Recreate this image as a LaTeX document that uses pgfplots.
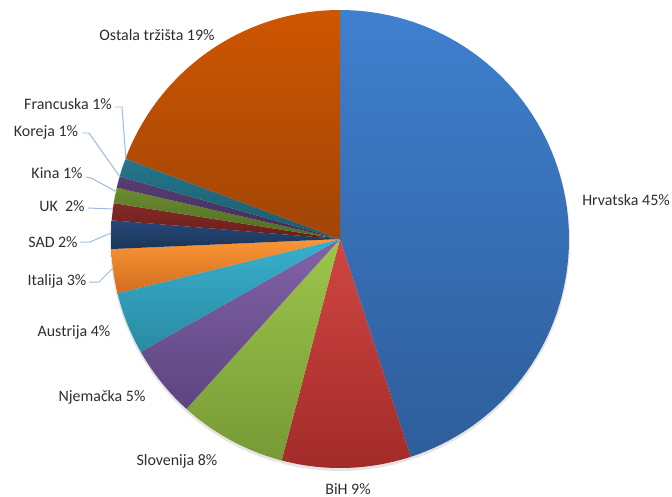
\documentclass[border=0pt]{standalone}
\usepackage{pgfplots}
\pgfplotsset{compat=1.18}
\usepackage{fontspec}
\setmainfont{Carlito}
\definecolor{txt}{HTML}{2E2E2E}
\definecolor{lead}{HTML}{9DBBE2}
% top / bottom shades of each slice
\definecolor{hrT}{HTML}{3F80CF}\definecolor{hrB}{HTML}{2E5D9A}
\definecolor{biT}{HTML}{D04643}\definecolor{biB}{HTML}{A22B29}
\definecolor{slT}{HTML}{9DC54B}\definecolor{slB}{HTML}{779A36}
\definecolor{njT}{HTML}{8263A8}\definecolor{njB}{HTML}{5D4480}
\definecolor{auT}{HTML}{38B0CD}\definecolor{auB}{HTML}{2A8AA3}
\definecolor{itT}{HTML}{FC9535}\definecolor{itB}{HTML}{D06E20}
\definecolor{saT}{HTML}{26497A}\definecolor{saB}{HTML}{1B3457}
\definecolor{ukT}{HTML}{872A26}\definecolor{ukB}{HTML}{661E1C}
\definecolor{kiT}{HTML}{6B8C2F}\definecolor{kiB}{HTML}{4F6A22}
\definecolor{koT}{HTML}{573E74}\definecolor{koB}{HTML}{3F2C55}
\definecolor{frT}{HTML}{25768B}\definecolor{frB}{HTML}{1B5A6B}
\definecolor{osT}{HTML}{CE5600}\definecolor{osB}{HTML}{A14507}
\tikzset{lab/.style={font=\fontsize{16}{19}\selectfont, text=txt, inner sep=0pt}}
% shares in percent (cumulative start, cumulative end)
\newcommand\slice[3]{%
  \addplot[draw=none, top color=#3T, bottom color=#3B, domain={3.6*#1}:{3.6*#2}, samples=80]
    ({340+229*sin(x)},{239-229*cos(x)}) -- (axis cs:340,239) -- cycle;}
\begin{document}
\begin{tikzpicture}
\begin{axis}[
  width=672bp, height=497bp, scale only axis,
  xmin=0, xmax=672, ymin=0, ymax=497, y dir=reverse,
  hide axis, clip=false,
]
\path (axis cs:0,0) rectangle (axis cs:672,497);
% soft shadow
\addplot[draw=none, fill=black, fill opacity=0.10, domain=0:360, samples=120]
  ({340+230*sin(x)},{241-230*cos(x)}) -- cycle;
% Hrvatska 45.0, BiH 9.1, Slovenija 7.6, Njemacka 5.1, Austrija 4.4, Italija 3.1,
% SAD 2.0, UK 1.2, Kina 1.1, Koreja 0.8, Francuska 1.3, Ostala 19.3
\slice{0}{45.0}{hr}
\slice{45.0}{54.1}{bi}
\slice{54.1}{61.7}{sl}
\slice{61.7}{66.8}{nj}
\slice{66.8}{71.2}{au}
\slice{71.2}{74.3}{it}
\slice{74.3}{76.3}{sa}
\slice{76.3}{77.5}{uk}
\slice{77.5}{78.6}{ki}
\slice{78.6}{79.4}{ko}
\slice{79.4}{80.7}{fr}
\slice{80.7}{100}{os}
% leader lines
\addplot[lead, line width=1pt] coordinates {(89,282) (99,282) (113,268)};
\addplot[lead, line width=1pt] coordinates {(80,242) (90,242) (111,233)};
\addplot[lead, line width=1pt] coordinates {(88,208) (113,209)};
\addplot[lead, line width=1pt] coordinates {(86,177) (91,178) (117,192)};
\addplot[lead, line width=1pt] coordinates {(82,133) (89,133) (120,177)};
\addplot[lead, line width=1pt] coordinates {(115,107) (122,107) (126,160)};
% labels
\node[lab] at (axis cs:626,200) {Hrvatska 45\%};
\node[lab] at (axis cs:348,489) {BiH 9\%};
\node[lab] at (axis cs:177,461) {Slovenija 8\%};
\node[lab] at (axis cs:102,397) {Njemačka 5\%};
\node[lab] at (axis cs:74,332) {Austrija 4\%};
\node[lab] at (axis cs:57,281) {Italija 3\%};
\node[lab] at (axis cs:53,242) {SAD 2\%};
\node[lab] at (axis cs:62,206) {UK\ \ 2\%};
\node[lab] at (axis cs:57,173) {Kina 1\%};
\node[lab] at (axis cs:46,132) {Koreja 1\%};
\node[lab] at (axis cs:68,104) {Francuska 1\%};
\node[lab] at (axis cs:157,35) {Ostala tržišta 19\%};
\end{axis}
\end{tikzpicture}
\end{document}
